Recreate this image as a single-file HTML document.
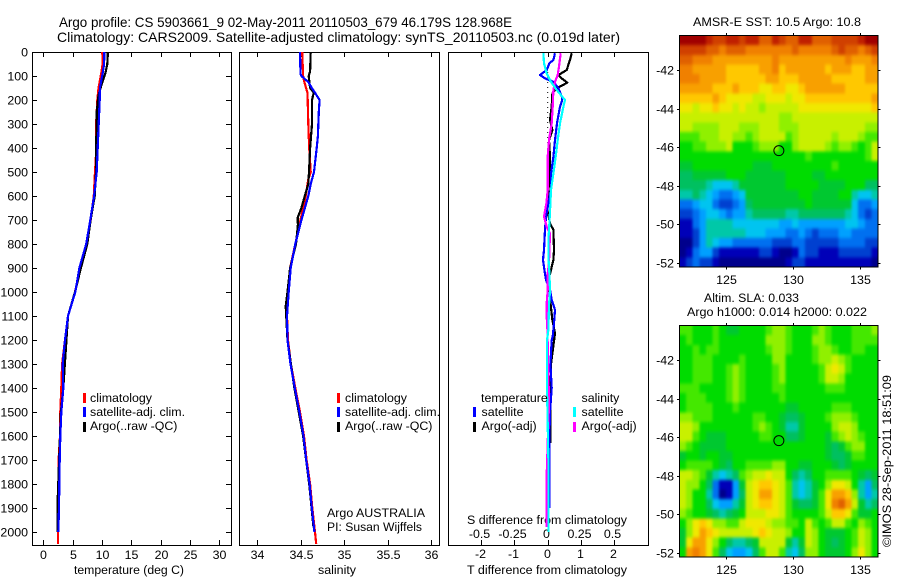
<!DOCTYPE html>
<html>
<head>
<meta charset="utf-8">
<title>Argo profile</title>
<style>
html,body{margin:0;padding:0;background:#fff;}
svg{display:block;}
text{font-family:"Liberation Sans",sans-serif;font-size:12.4px;fill:#000;}
.ttl{font-size:14px;}
</style>
</head>
<body>
<svg id="fig" xmlns="http://www.w3.org/2000/svg" width="900" height="580" viewBox="0 0 900 580">
<text class="ttl" x="59" y="27" textLength="453" lengthAdjust="spacingAndGlyphs">Argo profile: CS 5903661_9 02-May-2011 20110503_679 46.179S 128.968E</text>
<text class="ttl" x="57" y="42" textLength="563" lengthAdjust="spacingAndGlyphs">Climatology: CARS2009. Satellite-adjusted climatology: synTS_20110503.nc (0.019d later)</text>
<text x="74" y="574" textLength="110" lengthAdjust="spacingAndGlyphs">temperature (deg C)</text>
<text x="318" y="574" textLength="38" lengthAdjust="spacingAndGlyphs">salinity</text>
<text x="467" y="574" textLength="160" lengthAdjust="spacingAndGlyphs">T difference from climatology</text>
<text x="467" y="524" textLength="160" lengthAdjust="spacingAndGlyphs">S difference from climatology</text>
<text x="327" y="517" textLength="98" lengthAdjust="spacingAndGlyphs">Argo AUSTRALIA</text>
<text x="327" y="531" textLength="95" lengthAdjust="spacingAndGlyphs">PI: Susan Wijffels</text>
<text x="693" y="26" textLength="168" lengthAdjust="spacingAndGlyphs">AMSR-E SST: 10.5 Argo: 10.8</text>
<text x="704" y="302" textLength="95" lengthAdjust="spacingAndGlyphs">Altim. SLA: 0.033</text>
<text x="687" y="316" textLength="180" lengthAdjust="spacingAndGlyphs">Argo h1000: 0.014 h2000: 0.022</text>
<text transform="translate(891,547) rotate(-90)" textLength="172" lengthAdjust="spacingAndGlyphs">©IMOS 28-Sep-2011 18:51:09</text>
</svg>
<script>
// ---- axis tick data ----
const depthTicks = [0,100,200,300,400,500,600,700,800,900,1000,1100,1200,1300,1400,1500,1600,1700,1800,1900,2000];
const tempTicks = [0,5,10,15,20,25,30];
const salTicks = [34,34.5,35,35.5,36];
const tDiffTicks = [-2,-1,0,1,2];
const sDiffTickLabels = ['-0.5','-0.25','0','0.25','0.5'];
const lonTicks = [125,130,135];
const latTicks = [-42,-44,-46,-48,-50,-52];
const floatLon = 128.968;
const floatLat = -46.179;

// ---- temperature profile ----
const tempClimDepth = [0,50,85,150,200,300,400,500,600,700,800,900,1000,1100,1200,1300,1400,1500,1600,1700,1800,1900,2000,2050];
const tempClim = [10.05,10.1,9.9,9.4,9.2,9.0,9.05,8.8,8.6,8.07,7.3,6.25,5.4,4.2,3.7,3.2,3.07,2.9,2.85,2.6,2.6,2.5,2.5,2.5];
const tempSatDepth = [0,50,90,150,200,300,400,500,600,700,800,900,1000,1100,1200,1300,1400,1500,1600,1700,1800,1900,2000];
const tempSat = [10.4,10.35,10.1,9.65,9.6,9.44,9.27,9.1,8.65,8.0,7.3,6.15,5.45,4.2,3.7,3.3,3.4,3.07,2.9,2.8,2.73,2.67,2.56];
const tempArgoDepth = [0,50,90,130,180,250,300,400,500,600,700,800,900,1000,1100,1400,1500,1700,1900,2000];
const tempArgo = [11.0,10.9,10.56,10.0,9.4,9.1,9.1,8.98,8.98,8.75,8.05,7.5,6.4,5.4,4.2,3.4,3.0,2.7,2.4,2.45];

// ---- salinity profile ----
const salClimDepth = [0,100,120,170,300,400,500,530,600,700,800,900,1000,1100,1200,1300,1400,1500,1600,1700,1800,1900,2000,2050];
const salClim = [34.52,34.53,34.54,34.58,34.59,34.60,34.617,34.59,34.56,34.5,34.44,34.38,34.36,34.345,34.356,34.39,34.44,34.494,34.54,34.57,34.61,34.636,34.667,34.68];
const salSatDepth = [0,90,100,125,150,170,200,250,350,400,500,550,600,700,800,900,1000,1100,1200,1300,1400,1500,1600,1700,1800,1900,2000];
const salSat = [34.494,34.5,34.51,34.59,34.63,34.667,34.72,34.71,34.70,34.686,34.655,34.617,34.59,34.51,34.44,34.387,34.364,34.345,34.35,34.385,34.435,34.487,34.535,34.565,34.605,34.63,34.66];
const salArgoDepth = [0,80,100,150,170,180,200,300,400,500,550,600,650,690,720,800,900,1000,1060,1200,1400,1600,1800,1980];
const salArgo = [34.617,34.61,34.594,34.61,34.655,34.645,34.632,34.632,34.61,34.598,34.59,34.55,34.51,34.468,34.47,34.448,34.38,34.35,34.33,34.35,34.43,34.53,34.6,34.65];

// ---- difference profiles (T in deg C, S in psu) ----
const dTSatDepth = [5,33,47,75,96,110,124,151,193,207,228,297,367,436,506,575,630,686,741,825,866,908,950,991,1033,1075,1130,1186,1200,1300,1400,1500,1600,1900];
const dTSat = [0.22,0.17,0.05,-0.03,-0.23,-0.08,0.17,0.32,0.44,0.42,0.37,0.28,0.22,0.17,0.10,0.10,0.02,-0.05,-0.08,-0.11,-0.14,-0.10,-0.05,0.07,0.12,0.22,0.19,0.15,0.12,0.08,0.12,0.07,0.05,0.05];
const dTArgoDepth = [5,33,75,96,110,128,151,172,228,283,325,367,436,506,575,644,714,741,825,866,908,950,991,1117,1172,1300,1500,1630];
const dTArgo = [0.72,0.67,0.57,0.32,0.42,0.59,0.27,0.14,0.12,0.07,0.14,0.04,0.07,0.07,0.02,-0.03,0.07,0.17,0.19,0.17,0.10,0.02,0.04,0.14,0.22,0.10,0.08,0.08];
const dSSatDepth = [5,47,89,124,158,200,228,297,367,436,506,575,630,714,783,853,922,991,1060,1158,1200,1400,1700,2000];
const dSSat = [-0.0325,-0.0275,-0.0075,0.025,0.0675,0.13,0.1175,0.0925,0.075,0.06,0.0425,0.025,0.02,0.0125,0.005,0.005,0.0125,0.0175,0.01,0.005,-0.005,-0.005,0.005,0.005];
const dSArgoDepth = [5,61,96,124,158,228,297,367,436,575,630,686,728,756,825,880,922,991,1047,1103,1158,1400,1500,1800,1980];
const dSArgo = [0.0975,0.085,0.075,0.055,0.0425,0.0375,0.03,0.01,0,0,-0.01,-0.0275,-0.0075,0.0175,0.0125,0.01,0,0,-0.0075,-0.0075,-0.0025,0.0075,0.0075,-0.01,-0.01];

// ---- colour scale levels ----
const mapPalette = ['#00008c','#0000b8','#0040d0','#0070f0','#00a0ff','#00c4f0','#00c8a8','#00c060','#00c830','#00dc00','#44e800','#90f000','#c8f000','#f0e800','#ffc800','#f8a000','#f08000','#e06000','#d04000','#c02000','#a00000'];

// ---- AMSR-E SST map, colour level per cell, north to south ----
const sstCells = [
[20,20,20,20,19,18,18,19,19,18,19,19,17,17,19,18,17,17,19,19,17,17,17,18,18,18,18,19,20,20],
[18,18,18,18,17,17,16,17,17,17,16,16,16,16,16,16,16,17,16,16,16,16,16,17,18,17,17,16,17,18],
[17,17,16,16,16,15,15,15,15,15,15,15,15,15,16,15,15,15,15,15,15,15,15,15,15,16,15,15,15,16],
[16,16,15,15,15,15,15,14,14,14,14,14,15,15,16,14,15,15,15,15,15,15,14,15,15,15,14,14,15,15],
[16,16,16,15,15,15,15,14,14,14,14,14,14,15,15,14,14,14,15,15,15,15,15,14,14,14,14,14,15,15],
[15,15,15,15,15,14,14,14,15,14,14,14,13,13,14,14,13,13,14,15,15,15,15,15,15,14,14,14,14,14],
[14,14,14,14,14,15,14,13,13,13,13,12,12,13,13,13,12,13,13,14,14,14,14,14,14,14,14,14,14,15],
[13,13,12,13,13,14,13,13,12,13,12,12,11,12,12,12,12,12,13,13,13,13,13,13,13,13,13,13,13,14],
[12,12,12,12,12,12,12,12,12,12,12,12,12,12,12,11,11,12,12,12,12,12,12,12,12,12,12,12,12,12],
[12,12,11,11,11,11,12,12,12,11,11,11,12,12,12,11,11,11,12,12,12,12,12,12,12,12,12,12,11,11],
[10,10,10,11,11,11,12,12,11,11,10,11,12,12,12,12,10,11,12,12,12,12,12,11,12,12,12,11,10,10],
[9,9,10,10,11,11,11,12,9,9,9,10,11,11,11,9,9,11,12,12,12,12,11,10,11,11,10,9,10,12],
[9,9,9,9,9,9,9,9,9,9,9,9,9,9,9,9,9,9,9,10,9,9,9,9,9,9,9,9,10,12],
[8,8,9,9,9,9,9,9,9,9,9,8,8,8,9,9,9,9,9,9,9,9,9,10,9,9,9,9,9,9],
[7,7,8,8,8,8,8,9,9,9,8,8,8,8,8,8,9,9,9,9,8,8,9,9,9,9,9,9,9,9],
[7,7,7,7,6,5,5,5,6,8,8,8,8,8,8,8,9,9,9,9,9,8,8,8,8,9,9,9,7,7],
[6,6,7,6,5,4,3,3,4,5,8,8,8,8,8,8,8,8,9,9,8,8,8,8,9,9,6,5,5,6],
[3,3,4,5,5,3,2,2,3,4,7,8,8,8,8,8,8,8,8,9,8,8,8,8,8,8,5,3,3,4],
[2,2,3,4,5,5,4,3,4,4,6,7,7,7,7,7,6,6,7,7,7,7,7,7,7,6,5,3,2,3],
[1,1,3,4,6,6,6,6,5,5,5,5,5,5,5,4,4,5,4,4,4,4,4,4,4,5,5,4,3,3],
[1,1,2,4,6,6,6,6,6,6,5,5,5,4,4,4,3,3,4,3,2,3,3,3,4,4,3,3,3,3],
[0,0,2,4,6,5,4,4,3,3,3,3,3,3,2,2,2,3,3,2,2,2,2,2,3,3,3,3,2,2],
[0,1,3,4,4,2,1,1,1,1,1,1,2,2,1,0,0,1,3,2,2,1,1,1,2,2,2,2,2,1],
[1,2,3,2,2,1,0,0,0,0,0,0,0,0,0,0,1,2,2,1,1,1,1,1,1,1,1,1,1,0]
];

// ---- altimeter SLA map, colour level per cell, north to south ----
const slaCells = [
[10,10,9,9,9,10,9,8,8,9,9,9,9,10,11,11,10,9,9,9,10,11,10,9,9,9,10,10,10,11],
[9,10,9,9,9,10,9,9,9,9,9,9,9,11,11,11,10,9,9,9,11,11,10,9,9,9,10,10,10,10],
[9,9,10,9,10,10,9,9,9,9,9,9,9,10,11,11,10,9,9,9,10,11,11,10,9,9,10,10,9,9],
[9,9,10,10,10,9,9,9,9,10,9,9,9,9,11,11,9,9,9,9,10,11,11,12,11,10,9,9,9,9],
[9,9,10,10,10,9,9,10,11,10,9,9,9,9,10,11,9,9,9,9,9,10,12,13,12,10,9,9,9,9],
[9,9,10,10,10,9,9,10,11,10,9,9,9,9,10,11,9,9,9,9,9,10,12,12,11,9,9,9,9,9],
[10,10,10,9,9,9,9,10,11,10,9,9,9,9,10,10,9,9,9,9,9,9,10,10,10,9,9,9,9,9],
[9,10,10,10,9,9,9,10,11,10,9,9,9,9,9,10,9,9,9,9,9,9,9,9,9,9,9,9,9,9],
[9,10,10,10,10,9,9,9,10,9,9,9,9,9,9,9,8,8,9,9,9,9,9,10,10,10,9,9,9,9],
[11,11,10,10,10,9,9,9,9,9,9,10,10,9,9,8,7,7,8,9,9,9,10,11,11,11,10,9,9,9],
[12,12,11,9,9,9,9,9,9,9,9,10,11,10,9,8,6,6,8,9,9,9,9,11,12,12,11,9,9,9],
[12,12,10,9,8,8,8,9,9,9,9,9,10,10,9,9,7,7,8,9,9,9,8,10,11,12,11,10,9,9],
[11,10,9,8,8,8,8,9,9,9,9,9,9,9,9,9,9,9,9,9,9,9,8,7,8,10,11,11,9,9],
[8,9,9,8,9,9,8,8,9,9,9,9,9,9,9,9,9,9,9,9,9,9,8,7,7,8,10,10,9,9],
[9,10,10,10,10,9,8,7,9,9,10,10,10,10,11,11,9,9,8,8,9,9,9,8,7,8,9,9,9,9],
[12,12,11,10,8,6,5,6,7,10,11,12,12,13,12,12,9,7,6,7,9,9,10,10,10,10,9,8,7,8],
[12,11,11,9,7,3,1,1,4,8,12,13,14,14,13,12,10,6,5,6,8,9,11,13,13,12,9,6,4,7],
[12,11,9,9,6,3,0,1,4,7,12,13,15,15,13,12,10,6,5,6,8,10,13,15,15,14,11,6,4,6],
[12,11,9,9,7,5,4,4,6,8,12,13,14,14,13,12,10,8,7,7,8,10,13,16,17,15,12,8,6,7],
[11,10,9,9,8,7,6,7,8,9,12,12,12,13,13,12,10,9,9,9,9,10,12,14,14,13,10,8,8,9],
[9,11,13,14,13,11,11,10,10,12,13,13,13,12,11,11,10,10,9,12,10,9,10,12,12,10,9,11,10,9],
[8,11,13,15,14,13,12,12,12,12,12,13,14,13,12,12,11,9,9,12,11,9,8,8,8,9,10,12,11,9],
[8,13,15,15,13,11,9,7,6,6,7,8,12,12,12,12,8,6,8,12,11,9,8,7,8,9,10,12,11,9],
[9,15,16,15,13,10,7,5,4,4,5,7,10,12,12,10,6,5,7,11,11,9,8,8,8,9,11,13,11,9]
];

// ---- geometry helpers ----
const NS = 'http://www.w3.org/2000/svg';
const fig = document.getElementById('fig');
const yDepth = d => 52 + 0.24 * d;
const xTemp = v => 43.3 + 5.87 * v;
const xSal = v => 257 + 87 * (v - 34);
const xTDiff = v => 547.7 + 33.3 * v;
const xSDiff = v => 547.7 + 133.2 * v;
const xLon = v => 725.7 + 13.4 * (v - 125);
const yLatSst = v => 70 + 19.3 * (-42 - v);
const yLatSla = v => 360 + 19.3 * (-42 - v);

function mk(tag, attrs, name, parent) {
  const el = document.createElementNS(NS, tag);
  for (const k in attrs) el.setAttribute(k, attrs[k]);
  
  
  (parent || fig).appendChild(el);
  return el;
}
function label(str, x, y, anchor, name) {
  const t = mk('text', {x: x, y: y, 'text-anchor': anchor}, name);
  t.textContent = str;
  return t;
}
function hair(x1, y1, x2, y2, name) {
  return mk('line', {x1: x1, y1: y1, x2: x2, y2: y2, stroke: '#000', 'stroke-width': 1, 'shape-rendering': 'crispEdges'}, name);
}
function box(x, y, w, h, name) {
  return mk('rect', {x: x, y: y, width: w, height: h, fill: 'none', stroke: '#000', 'stroke-width': 1, 'shape-rendering': 'crispEdges'}, name);
}
function profile(depths, values, xf, color, width, name) {
  const pts = depths.map((d, i) => xf(values[i]).toFixed(1) + ',' + yDepth(d).toFixed(1)).join(' ');
  return mk('polyline', {points: pts, fill: 'none', stroke: color, 'stroke-width': width, 'stroke-linejoin': 'round', 'shape-rendering': 'crispEdges'}, name);
}
function legendMark(x, y, color, name) {
  return mk('rect', {x: x - 1, y: y, width: 3, height: 10, fill: color}, name);
}

// ---- profile panels ----
box(32.5, 52.5, 199, 493, 'temperature-panel');
box(239.5, 52.5, 200, 493, 'salinity-panel');
box(448.5, 52.5, 200, 493, 'difference-panel');

depthTicks.forEach(d => {
  const y = Math.round(yDepth(d)) + 0.5;
  if (d > 0) hair(32, y, 37, y, 'depth-tick-left-' + d);
  if (d > 0) hair(226, y, 231, y, 'depth-tick-right-' + d);
  label(String(d), 28, y + 4, 'end', 'depth-label-' + d);
});
tempTicks.forEach(v => {
  const x = Math.round(xTemp(v)) + 0.5;
  hair(x, 52, x, 57, 'temperature-tick-top-' + v);
  hair(x, 540, x, 545, 'temperature-tick-bottom-' + v);
  label(String(v), x, 559, 'middle', 'temperature-label-' + v);
});
salTicks.forEach(v => {
  const x = Math.round(xSal(v)) + 0.5;
  hair(x, 52, x, 57, 'salinity-tick-top-' + v);
  hair(x, 540, x, 545, 'salinity-tick-bottom-' + v);
  label(String(v), x, 559, 'middle', 'salinity-label-' + v);
});
tDiffTicks.forEach((v, i) => {
  const x = Math.round(xTDiff(v)) + 0.5;
  hair(x, 52, x, 57, 'difference-tick-top-' + v);
  hair(x, 540, x, 545, 'difference-tick-bottom-' + v);
  label(String(v), x - 1, 558, 'middle', 't-difference-label-' + v);
  label(sDiffTickLabels[i], x - 2, 538, 'middle', 's-difference-label-' + i);
});

// series
profile(tempClimDepth, tempClim, xTemp, '#ff0000', 2.2, 'temperature-climatology-line');
profile(tempArgoDepth, tempArgo, xTemp, '#000000', 2.2, 'temperature-argo-line');
profile(tempSatDepth, tempSat, xTemp, '#0000ff', 2.2, 'temperature-satellite-line');
profile(salClimDepth, salClim, xSal, '#ff0000', 2.2, 'salinity-climatology-line');
profile(salArgoDepth, salArgo, xSal, '#000000', 2.2, 'salinity-argo-line');
profile(salSatDepth, salSat, xSal, '#0000ff', 2.2, 'salinity-satellite-line');
mk('line', {x1: xTDiff(0), y1: 72, x2: xTDiff(0), y2: 145, stroke: '#000', 'stroke-width': 1, 'stroke-dasharray': '1 4'}, 'zero-dotted-line');
profile(dTArgoDepth, dTArgo, xTDiff, '#000000', 2.2, 't-difference-argo-line');
profile(dTSatDepth, dTSat, xTDiff, '#0000ff', 2.2, 't-difference-satellite-line');
profile(dSArgoDepth, dSArgo, xSDiff, '#ff00ff', 2.2, 's-difference-argo-line');
profile(dSSatDepth, dSSat, xSDiff, '#00ffff', 2.2, 's-difference-satellite-line');

// legends
[[84, 90, 'temperature'], [338, 345, 'salinity']].forEach(p => {
  legendMark(p[0], 393, '#ff0000', p[2] + '-legend-climatology-mark');
  legendMark(p[0], 407, '#0000ff', p[2] + '-legend-satellite-mark');
  legendMark(p[0], 422, '#000000', p[2] + '-legend-argo-mark');
  label('climatology', p[1], 402, 'start', p[2] + '-legend-climatology');
  label('satellite-adj. clim.', p[1], 416, 'start', p[2] + '-legend-satellite');
  label('Argo(..raw -QC)', p[1], 430, 'start', p[2] + '-legend-argo');
});
label('temperature', 481, 402, 'start', 'difference-legend-temperature-header');
label('satellite', 481.5, 416, 'start', 'difference-legend-t-satellite');
label('Argo(-adj)', 481.5, 430, 'start', 'difference-legend-t-argo');
label('salinity', 581.5, 402, 'start', 'difference-legend-salinity-header');
label('satellite', 581.5, 416, 'start', 'difference-legend-s-satellite');
label('Argo(-adj)', 581.5, 430, 'start', 'difference-legend-s-argo');
legendMark(474, 407, '#0000ff', 'difference-legend-t-satellite-mark');
legendMark(474, 422, '#000000', 'difference-legend-t-argo-mark');
legendMark(574, 407, '#00ffff', 'difference-legend-s-satellite-mark');
legendMark(574, 422, '#ff00ff', 'difference-legend-s-argo-mark');

// ---- maps ----
function drawMap(cells, top, yLat, prefix) {
  const left = 679.5, w = 198.5, h = 231.5;
  const nr = cells.length, nc = cells[0].length;
  const cw = w / nc, ch = h / nr;
  const bleed = 14;

  const defs = mk('defs', {}, prefix + '-defs');
  const clip = mk('clipPath', {id: prefix + '-clip'}, prefix + '-clip', defs);
  mk('rect', {x: left, y: top, width: w, height: h}, prefix + '-clip-rect', clip);
  const blur = mk('filter', {id: prefix + '-blur', filterUnits: 'userSpaceOnUse', x: left - bleed, y: top - bleed, width: w + 2 * bleed, height: h + 2 * bleed, 'color-interpolation-filters': 'sRGB'}, prefix + '-smoothing', defs);
  mk('feGaussianBlur', {stdDeviation: '1.4 1.7'}, prefix + '-smoothing-blur', blur);

  const outer = mk('g', {'clip-path': 'url(#' + prefix + '-clip)'}, prefix + '-map-image');
  const inner = mk('g', {filter: 'url(#' + prefix + '-blur)'}, prefix + '-map-cells', outer);
  cells.forEach((row, r) => row.forEach((lvl, c) => {
    // edge cells bleed outward so smoothing does not fade at the frame
    const x0 = c === 0 ? left - bleed : left + c * cw;
    const x1 = c === nc - 1 ? left + w + bleed : left + (c + 1) * cw;
    const y0 = r === 0 ? top - bleed : top + r * ch;
    const y1 = r === nr - 1 ? top + h + bleed : top + (r + 1) * ch;
    mk('rect', {
      x: x0.toFixed(2), y: y0.toFixed(2),
      width: (x1 - x0 + 0.3).toFixed(2), height: (y1 - y0 + 0.3).toFixed(2),
      fill: mapPalette[lvl], 'shape-rendering': 'crispEdges'
    }, prefix + '-cell-' + r + '-' + c, inner);
  }));

  box(left, top, w, h, prefix + '-map-frame');
  lonTicks.forEach(v => {
    const x = Math.round(xLon(v)) + 0.5;
    hair(x, top - 2.5, x, top, prefix + '-lon-tick-top-' + v);
    hair(x, top + h, x, top + h + 2.5, prefix + '-lon-tick-bottom-' + v);
    label(String(v), x, top + h + 17, 'middle', prefix + '-lon-label-' + v);
  });
  latTicks.forEach(v => {
    const y = Math.round(yLat(v)) + 0.5;
    hair(left - 2.5, y, left, y, prefix + '-lat-tick-left-' + v);
    hair(left + w, y, left + w + 2.5, y, prefix + '-lat-tick-right-' + v);
    label(String(v), 674, y + 4, 'end', prefix + '-lat-label-' + v);
  });
  mk('circle', {cx: xLon(floatLon), cy: yLat(floatLat), r: 5, fill: 'none', stroke: '#000', 'stroke-width': 1}, prefix + '-float-marker');
}
drawMap(sstCells, 35.5, yLatSst, 'sst');
drawMap(slaCells, 325.5, yLatSla, 'sla');
</script>
</body>
</html>
